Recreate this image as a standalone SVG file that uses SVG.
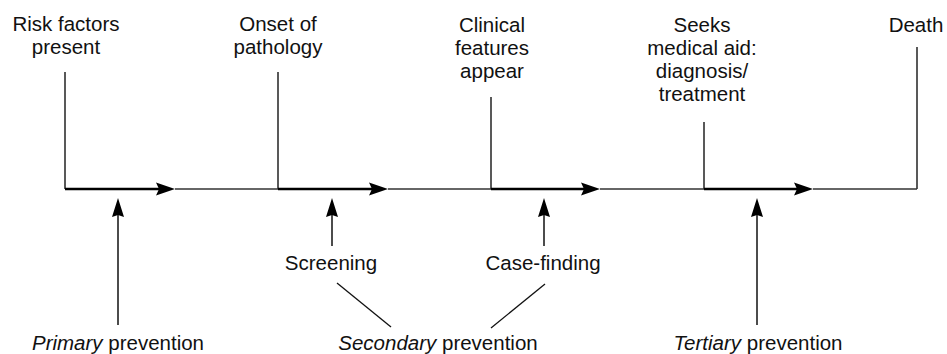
<svg xmlns="http://www.w3.org/2000/svg" width="947" height="354" viewBox="0 0 947 354">
  <style>
    text { font-family: "Liberation Sans", Arial, sans-serif; font-size: 20.5px; fill: #111; text-anchor: middle; }
    .it { font-style: italic; }
    .tick { stroke: #222; stroke-width: 1.5; fill: none; }
    .phase { stroke: #000; stroke-width: 2.6; fill: none; }
    .gap { stroke: #333; stroke-width: 1.6; fill: none; }
    .up { stroke: #111; stroke-width: 1.5; fill: none; }
    .link { stroke: #111; stroke-width: 1.3; fill: none; }
    .head { fill: #000; }
  </style>
  <rect width="947" height="354" fill="#fff"/>

  <!-- Events along the time line -->
  <g id="risk-factors">
    <line class="tick" x1="65" y1="72" x2="65" y2="189"/>
    <text x="66" y="31">Risk factors</text>
    <text x="66" y="54">present</text>
  </g>
  <g id="onset">
    <line class="tick" x1="278" y1="72" x2="278" y2="189"/>
    <text x="278" y="31">Onset of</text>
    <text x="278" y="54">pathology</text>
  </g>
  <g id="clinical-features">
    <line class="tick" x1="491" y1="97" x2="491" y2="189"/>
    <text x="492" y="32">Clinical</text>
    <text x="492" y="55">features</text>
    <text x="492" y="78">appear</text>
  </g>
  <g id="seeks-aid">
    <line class="tick" x1="704" y1="122" x2="704" y2="189"/>
    <text x="702" y="32">Seeks</text>
    <text x="702" y="55">medical aid:</text>
    <text x="702" y="78">diagnosis/</text>
    <text x="702" y="101">treatment</text>
  </g>
  <g id="death">
    <line class="tick" x1="917" y1="47" x2="917" y2="189"/>
    <text x="916" y="32">Death</text>
  </g>

  <!-- Interventions below the line -->
  <g id="screening">
    <text x="331" y="270">Screening</text>
  </g>
  <g id="case-finding">
    <text x="543" y="270">Case-finding</text>
  </g>
  <g id="primary">
    <text x="118" y="350"><tspan class="it">Primary</tspan> prevention</text>
  </g>
  <g id="secondary">
    <text x="438" y="350"><tspan class="it">Secondary</tspan> prevention</text>
  </g>
  <g id="tertiary">
    <text x="758" y="350"><tspan class="it">Tertiary</tspan> prevention</text>
  </g>

  <g id="connectors">
    <!-- time line: thick phase arrows followed by thin gaps -->
    <line class="phase" x1="65" y1="189" x2="160" y2="189"/>
    <line class="gap" x1="175" y1="189" x2="278" y2="189"/>
    <line class="phase" x1="278" y1="189" x2="373" y2="189"/>
    <line class="gap" x1="388" y1="189" x2="491" y2="189"/>
    <line class="phase" x1="491" y1="189" x2="585" y2="189"/>
    <line class="gap" x1="600" y1="189" x2="704" y2="189"/>
    <line class="phase" x1="704" y1="189" x2="798" y2="189"/>
    <line class="gap" x1="813" y1="189" x2="917" y2="189"/>
    <path class="head" d="M175 189 L156 182.5 L159 189 L156 195.5 Z"/>
    <path class="head" d="M388 189 L369 182.5 L372 189 L369 195.5 Z"/>
    <path class="head" d="M600 189 L581 182.5 L584 189 L581 195.5 Z"/>
    <path class="head" d="M813 189 L794 182.5 L797 189 L794 195.5 Z"/>

    <!-- upward pointers -->
    <line class="up" x1="118" y1="325" x2="118" y2="212"/>
    <path class="head" d="M118 198 L112 217 L118 215 L124 217 Z"/>
    <line class="up" x1="332" y1="246" x2="332" y2="212"/>
    <path class="head" d="M332 198 L326 217 L332 215 L338 217 Z"/>
    <line class="up" x1="544" y1="246" x2="544" y2="212"/>
    <path class="head" d="M544 198 L538 217 L544 215 L550 217 Z"/>
    <line class="up" x1="757" y1="325" x2="757" y2="212"/>
    <path class="head" d="M757 198 L751 217 L757 215 L763 217 Z"/>

    <!-- secondary prevention links -->
    <line class="link" x1="337" y1="283" x2="391" y2="327"/>
    <line class="link" x1="545" y1="284" x2="491" y2="328"/>
  </g>
</svg>
